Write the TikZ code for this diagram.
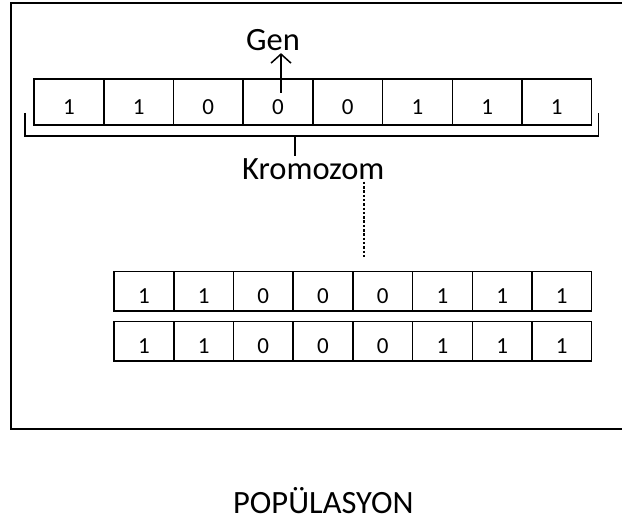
\documentclass[tikz,border=0pt]{standalone}
\usepackage{fontspec}
\setmainfont{Carlito}
\usetikzlibrary{arrows.meta}

\tikzset{
  gene/.style={draw, line width=1.5pt, inner sep=0pt, anchor=north west,
    text height=24pt, text depth=0pt, font=\fontsize{23}{25}\selectfont},
  word/.style={inner sep=2pt, anchor=base, font=\fontsize{32.5}{36}\selectfont},
}

\begin{document}
\begin{tikzpicture}[x=1pt, y=-1pt]

  \useasboundingbox (0,0) rectangle (622,521);

  % population frame, runs off to the right
  \draw[line width=2.2pt] (623,3.3) -| (10.7,429) -- (623,429);

  % chromosome
  \foreach \b [count=\i] in {1,1,0,0,0,1,1,1}
    \node[gene, minimum width=69.7pt, minimum height=46pt]
      (kro\i) at ({33.3+(\i-1)*69.7}, 78.3) {\b};

  % two members of the population
  \foreach \b [count=\i] in {1,1,0,0,0,1,1,1} {
    \node[gene, minimum width=59.7pt, minimum height=39.6pt]
      (popa\i) at ({113.3+(\i-1)*59.7}, 270.6) {\b};
    \node[gene, minimum width=59.7pt, minimum height=39.6pt]
      (popb\i) at ({113.3+(\i-1)*59.7}, 320.6) {\b};
  }

  \node[word] (gen) at (273,50.7) {Gen};
  \node[word] (krom) at (313.3,179.3) {Kromozom};
  \node[word, inner sep=0pt] (pop) at (323.3,514) {POPÜLASYON};

  % gene pointer
  \coordinate (genfoot) at (281,93);
  \draw[line width=1.5pt, -{Straight Barb[length=9pt,width=20pt]}]
    (genfoot) -- (genfoot |- gen.south);

  % bracket under the chromosome
  \coordinate (brace) at (295,136);
  \draw[line width=1.5pt] (25,113) |- (598.7,136) -- (598.7,113);
  \draw[line width=1.5pt] (brace) -- (brace |- krom.north);

  % dotted link down to the population
  \coordinate (dotx) at (364,0);
  \coordinate (pophead) at (364,258);
  \draw[line width=2pt, dash pattern=on 2.5pt off 1.8pt]
    (dotx |- krom.south) -- (pophead);

\end{tikzpicture}
\end{document}
